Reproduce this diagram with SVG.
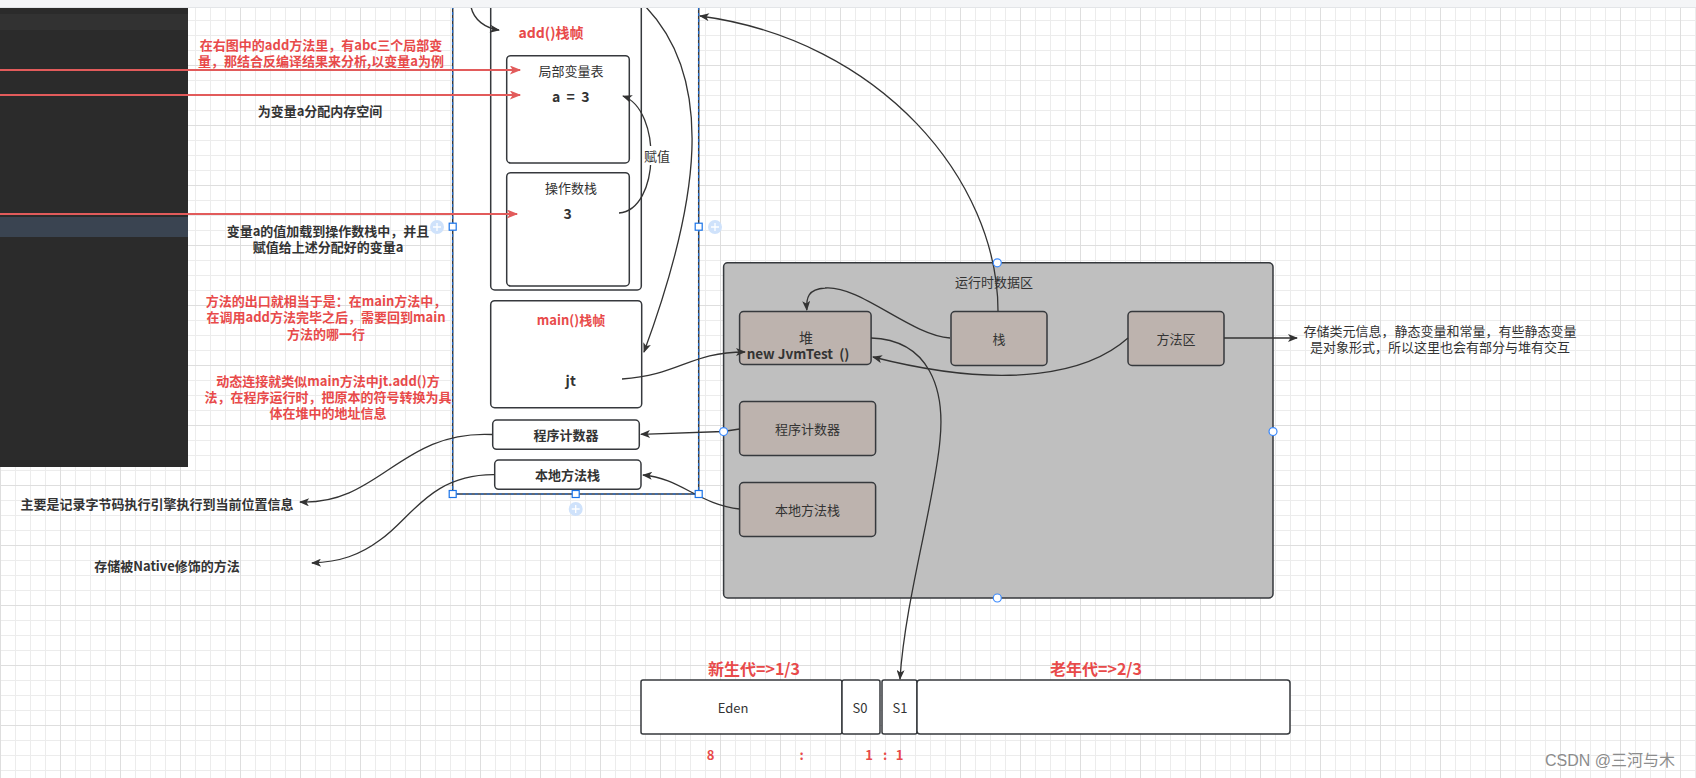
<svg xmlns="http://www.w3.org/2000/svg" width="1696" height="778" viewBox="0 0 1696 778">
<defs>
<pattern id="grid" width="60" height="60" patternUnits="userSpaceOnUse" x="0" y="5">
<path d="M15.5 0V60M30.5 0V60M45.5 0V60M0 15.5H60M0 30.5H60M0 45.5H60" stroke="#ececec" stroke-width="1" fill="none"/>
<path d="M0.5 0V60M0 0.5H60" stroke="#dedede" stroke-width="1" fill="none"/>
</pattern>
<marker id="ad" viewBox="0 0 10 8" refX="9" refY="4" markerWidth="11" markerHeight="8" markerUnits="userSpaceOnUse" orient="auto"><path d="M0 0L10 4L0 8L2.5 4Z" fill="#333"/></marker>
<marker id="ar" viewBox="0 0 10 8" refX="9" refY="4" markerWidth="13" markerHeight="9" markerUnits="userSpaceOnUse" orient="auto"><path d="M0 0L10 4L0 8L2.5 4Z" fill="#e25b5b"/></marker>
<style>
.t{font-family:"Noto Sans CJK SC","Liberation Sans",sans-serif;font-size:13px;fill:#333;text-anchor:middle;dominant-baseline:central}
.b{font-weight:bold}
.r{fill:#e84a4a;font-weight:bold}
.pre{white-space:pre}
.box{fill:#fff;stroke:#36393d;stroke-width:1.5}
.gbox{fill:#bdb3ae;stroke:#36393d;stroke-width:1.5}
.c{fill:none;stroke:#333;stroke-width:1.3;marker-end:url(#ad)}
.rc{fill:none;stroke:#e25b5b;stroke-width:2;marker-end:url(#ar)}
.h{fill:#fff;stroke:#1a73e8;stroke-width:1.2}
.p{fill:#cfe2fb}
.hc{fill:#fff;stroke:#3d8bfd;stroke-width:1.2}
</style>
</defs>
<rect width="1696" height="778" fill="#fff"/>
<rect width="1696" height="778" fill="url(#grid)"/>

<g id="code-panel">
<rect x="0" y="7" width="188" height="460" fill="#2b2b2b"/>
<rect x="0" y="14" width="188" height="16" fill="#323232"/>
<rect x="0" y="217" width="188" height="20" fill="#3a4451"/>
</g>

<g id="stack-container">
<rect x="452.7" y="-5" width="246" height="499" fill="#fff" stroke="#36393d" stroke-width="1.5"/>
<rect x="452.7" y="-5" width="246" height="499" fill="none" stroke="#1a73e8" stroke-width="1" stroke-dasharray="3 3"/>
</g>

<g id="add-frame">
<rect class="box" x="490.7" y="-5" width="150.6" height="295" rx="4"/>
<text class="t r" x="551" y="31.7" style="font-size:14px">add()栈帧</text>
</g>
<g id="local-vars">
<rect class="box" x="506.7" y="55.7" width="122.6" height="107.3" rx="4"/>
<text class="t" x="571" y="70.7">局部变量表</text>
<text class="t b pre" x="570.7" y="95.7" style="font-size:14px">a  =  3</text>
</g>
<g id="operand-stack">
<rect class="box" x="506.7" y="172.7" width="122.6" height="113.3" rx="4"/>
<text class="t" x="571" y="187.7">操作数栈</text>
<text class="t b" x="567.7" y="213.3" style="font-size:14px">3</text>
</g>
<g id="main-frame">
<rect class="box" x="490.7" y="300.7" width="151" height="107" rx="4"/>
<text class="t r" x="571" y="319.3">main()栈帧</text>
<text class="t b" x="570.7" y="380" style="font-size:14px">jt</text>
</g>
<g id="stack-pc">
<rect class="box" x="492.7" y="420" width="146.6" height="29.3" rx="4"/>
<text class="t b" x="566" y="434.7">程序计数器</text>
</g>
<g id="stack-native">
<rect class="box" x="494.7" y="460" width="146.3" height="29.3" rx="4"/>
<text class="t b" x="567.5" y="474.7">本地方法栈</text>
</g>

<g id="runtime-area">
<rect x="723.6" y="262.8" width="549.4" height="335.2" rx="4" fill="#bfbfbf" stroke="#36393d" stroke-width="1.5"/>
<text class="t" x="994" y="281">运行时数据区</text>
</g>
<g id="heap">
<rect class="gbox" x="739.6" y="311.5" width="131.5" height="53" rx="4"/>
<text class="t" x="806" y="336.5" style="font-size:14px">堆</text>
<text class="t b pre" x="798" y="353" style="font-size:13.5px">new JvmTest  ()</text>
</g>
<g id="stack">
<rect class="gbox" x="951" y="311.5" width="96" height="54" rx="4"/>
<text class="t" x="999" y="338.5">栈</text>
</g>
<g id="method-area">
<rect class="gbox" x="1128" y="311.5" width="96" height="54" rx="4"/>
<text class="t" x="1176" y="338.5">方法区</text>
</g>
<g id="pc-register">
<rect class="gbox" x="739.6" y="401.5" width="136" height="54" rx="4"/>
<text class="t" x="807.6" y="428.5">程序计数器</text>
</g>
<g id="native-stack">
<rect class="gbox" x="739.6" y="482.5" width="136" height="54" rx="4"/>
<text class="t" x="807.6" y="509.5">本地方法栈</text>
</g>

<g id="heap-layout">
<rect x="641" y="680" width="201" height="54" rx="2" fill="#fff" stroke="#36393d" stroke-width="1.5"/>
<rect x="842" y="680" width="38" height="54" rx="2" fill="#fff" stroke="#36393d" stroke-width="1.5"/>
<rect x="882" y="680" width="35" height="54" rx="2" fill="#fff" stroke="#36393d" stroke-width="1.5"/>
<rect x="917" y="680" width="373" height="54" rx="3" fill="#fff" stroke="#36393d" stroke-width="1.5"/>
<text class="t" x="733" y="707.5">Eden</text>
<text class="t" x="860" y="707.5">S0</text>
<text class="t" x="900" y="707.5">S1</text>
<text class="t r" x="754" y="668" style="font-size:16px">新生代=&gt;1/3</text>
<text class="t r" x="1096" y="668" style="font-size:16px">老年代=&gt;2/3</text>
<text class="t r" y="754"><tspan x="710.5">8</tspan><tspan x="801.5">:</tspan><tspan x="869">1</tspan><tspan x="885">:</tspan><tspan x="899.5">1</tspan></text>
</g>

<g id="labels">
<text class="t r"><tspan x="321" y="43.5">在右图中的add方法里，有abc三个局部变</tspan><tspan x="321" y="60">量，那结合反编译结果来分析,以变量a为例</tspan></text>
<text class="t b" x="320" y="110">为变量a分配内存空间</text>
<text class="t b"><tspan x="328" y="230">变量a的值加载到操作数栈中，并且</tspan><tspan x="328" y="246">赋值给上述分配好的变量a</tspan></text>
<text class="t r"><tspan x="326" y="300">方法的出口就相当于是：在main方法中，</tspan><tspan x="326" y="316.3">在调用add方法完毕之后，需要回到main</tspan><tspan x="326" y="332.6">方法的哪一行</tspan></text>
<text class="t r"><tspan x="328" y="379.5">动态连接就类似main方法中jt.add()方</tspan><tspan x="328" y="395.8">法，在程序运行时，把原本的符号转换为具</tspan><tspan x="328" y="412.1">体在堆中的地址信息</tspan></text>
<text class="t b" x="157" y="503">主要是记录字节码执行引擎执行到当前位置信息</text>
<text class="t b" x="167" y="565.5">存储被Native修饰的方法</text>
<text class="t"><tspan x="1440" y="330">存储类元信息，静态变量和常量，有些静态变量</tspan><tspan x="1440" y="346.3">是对象形式，所以这里也会有部分与堆有交互</tspan></text>
</g>

<g id="connectors">
<path class="rc" d="M0 70H520"/>
<path class="rc" d="M0 95H520"/>
<path class="rc" d="M0 214H517"/>
<path class="c" d="M619 213C660 210 662 110 623 96"/>
<rect x="645" y="146" width="24" height="19" fill="#fff"/>
<text class="t" x="657" y="155.7">赋值</text>
<path class="c" d="M471 7C474 20 485 28 499 30"/>
<path class="c" d="M646 7C715 80 700 200 644 352"/>
<path class="c" d="M622 379C680 375 690 352 745 352"/>
<path class="c" d="M998 311C998 180 880 40 700 16"/>
<path class="c" d="M950 338C910 335 860 285 825 288C808 289 806 298 806.8 310"/>
<path class="c" d="M1128 338C1090 372 1010 392 873 357"/>
<path class="c" d="M1224 338H1297"/>
<path class="c" d="M871 338C930 340 945 390 940 440C935 500 905 600 900 679"/>
<path class="c" d="M739.6 429L723 431.5L641 434.3"/>
<path class="c" d="M739.6 509C700 505 680 478 643 475"/>
<path class="c" d="M492 434.5C400 430 380 505 300 502"/>
<path class="c" d="M494.7 474.7C430 474 410 520 380 540C360 555 340 562 312 563"/>
</g>

<g id="handles">
<rect class="h" x="449.2" y="223.2" width="7" height="7"/>
<rect class="h" x="695.2" y="223.2" width="7" height="7"/>
<rect class="h" x="449.2" y="490.5" width="7" height="7"/>
<rect class="h" x="572.2" y="490.5" width="7" height="7"/>
<rect class="h" x="695.2" y="490.5" width="7" height="7"/>
<circle class="p" cx="437" cy="227" r="7"/>
<circle class="p" cx="715" cy="227" r="7"/>
<circle class="p" cx="575.7" cy="509" r="7"/>
<path d="M433 227h8M437 223v8M711 227h8M715 223v8M571.7 509h8M575.7 505v8" stroke="#fff" stroke-width="1.3"/>
<circle class="hc" cx="997.3" cy="262.8" r="4"/>
<circle class="hc" cx="723.6" cy="431.6" r="4"/>
<circle class="hc" cx="1273" cy="431.6" r="4"/>
<circle class="hc" cx="997.3" cy="598" r="4"/>
</g>

<g id="topbar">
<rect x="0" y="0" width="1696" height="7" fill="#f4f5f7"/>
<path d="M0 7.5H1696" stroke="#e3e5e8" stroke-width="1"/>
</g>
<text x="1545" y="766" style="font-family:'Liberation Sans','Noto Sans CJK SC',sans-serif;font-size:16px;fill:#8c8c8c">CSDN @三河与木</text>
</svg>
